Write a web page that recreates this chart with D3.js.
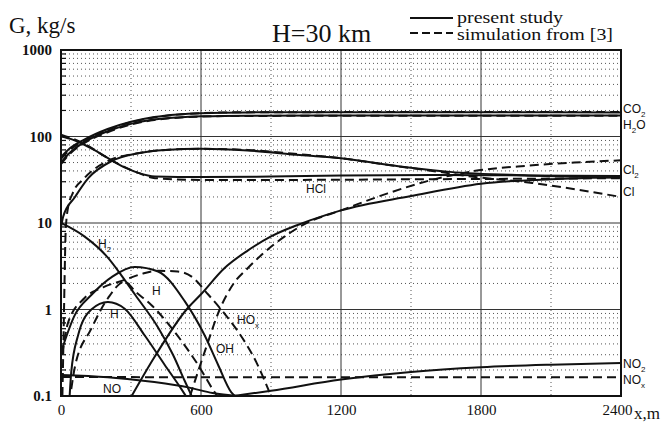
<!DOCTYPE html>
<html>
<head>
<meta charset="utf-8">
<script src="https://cdn.jsdelivr.net/npm/d3@7"></script>
<style>
  body { margin: 0; background: #fff; }
  svg { display: block; }
  .serif { font-family: "Liberation Serif", "Times New Roman", serif; fill: #111; }
  .lbl { font-family: "Liberation Sans", Arial, sans-serif; font-size: 12px; fill: #111; }
</style>
</head>
<body>
<svg id="chart" width="667" height="422"></svg>
<script>
// axis ticks
const xTicks = [0, 600, 1200, 1800, 2400];
const xDotted = [300, 900, 1500, 2100];
const yTicks = [0.1, 1, 10, 100, 1000];

// present study (solid), [x m, G kg/s]
const co2Solid = [[0,58],[30,70],[100,92],[200,122],[300,148],[400,168],[500,180],[600,186],[800,190],[1200,191],[1800,191],[2400,190]];
const h2oSolid = [[0,50],[30,62],[100,86],[200,115],[300,140],[400,157],[500,166],[600,171],[800,174],[1500,175],[2400,175]];
const hclSolid = [[0,100],[50,92],[90,83],[150,68],[217,53],[280,43],[331,38],[403,34.5],[600,34],[900,34.5],[1200,35.5],[1600,36],[2000,35.5],[2400,35]];
const clSolid = [[0,9],[10,12],[60,20],[117,33],[217,52],[331,64],[446,70],[600,72],[800,69],[1024,61],[1200,56],[1453,45],[1667,39],[2000,35.5],[2400,33.5]];
const cl2Solid = [[303,0.1],[400,0.28],[538,1.0],[600,1.5],[700,3.0],[800,4.8],[900,7],[1080,11],[1200,14],[1500,20.5],[1800,28.5],[2100,32],[2400,34]];
const h2Solid = [[0,10],[100,7],[200,4],[258,2.5],[320,1.45],[416,0.62],[480,0.3],[530,0.15],[560,0.1]];
const hSolid = [[37,0.1],[44,0.19],[73,0.5],[130,1.0],[201,1.22],[273,1.02],[359,0.5],[444,0.23],[516,0.12],[535,0.1]];
const ohSolid = [[0,0.32],[59,0.86],[130,1.47],[220,2.4],[316,3.1],[416,2.75],[530,1.25],[616,0.5],[673,0.23],[730,0.11],[745,0.1]];
const noSolid = [[0,0.175],[200,0.165],[400,0.145],[550,0.125],[650,0.108],[760,0.1]];
const no2Solid = [[740,0.1],[900,0.115],[1200,0.155],[1500,0.19],[1800,0.215],[2100,0.23],[2400,0.24]];

// simulation from [3] (dashed)
const co2Dash = [[0,55],[30,67],[100,89],[200,119],[300,146],[400,166],[500,179],[600,186],[800,191],[2400,192]];
const h2oDash = [[0,48],[30,60],[100,84],[200,112],[300,138],[400,155],[500,165],[600,170],[800,173],[2400,174]];
const hclDash = [[0,105],[90,85],[217,53],[331,38],[403,33],[600,31.5],[1000,31.5],[1500,32],[2000,32.5],[2400,33]];
const clDash = [[6,0.1],[11,0.5],[15,2],[20,8],[30,15],[50,22],[100,33],[200,52],[330,64],[450,70],[600,72],[800,70],[1000,63],[1200,56],[1450,45],[1650,38],[1740,35],[2020,29],[2400,20]];
const cl2Dash = [[553,0.1],[620,0.35],[680,1.0],[740,2.0],[800,3.0],[900,5.3],[1050,9.9],[1200,14],[1400,22],[1580,31],[1750,39],[2000,46],[2200,50],[2400,53]];
const hoxDash = [[5,0.3],[30,0.7],[100,1.35],[180,1.8],[273,2.2],[350,2.6],[416,2.8],[500,2.75],[560,2.4],[630,1.5],[700,0.9],[750,0.6],[839,0.24],[900,0.1]];
const hDash = [[44,0.12],[60,0.22],[130,0.6],[201,1.35],[273,2.1],[320,1.6],[387,1.13],[487,0.55],[587,0.23],[659,0.11],[670,0.1]];
const noxDash = [[0,0.166],[600,0.165],[1200,0.165],[1800,0.165],[2400,0.165]];

const solidSeries = [co2Solid, h2oSolid, hclSolid, clSolid, cl2Solid, h2Solid, hSolid, ohSolid, noSolid, no2Solid];
const dashSeries = [co2Dash, h2oDash, hclDash, clDash, cl2Dash, hoxDash, hDash, noxDash];

const svg = d3.select("#chart");
const x = d3.scaleLinear().domain([0, 2400]).range([61, 621]);
const y = d3.scaleLog().domain([0.1, 1000]).range([396, 50]);

svg.append("clipPath").attr("id", "plotClip")
  .append("rect").attr("x", 61).attr("y", 50).attr("width", 560).attr("height", 346);

// dotted minor grid
const minorY = [];
[0.1, 1, 10, 100].forEach(d => { for (let k = 2; k <= 9; k++) minorY.push(d * k); });
const grid = svg.append("g");
grid.selectAll(".hdot").data(minorY).join("line")
  .attr("x1", 61).attr("x2", 621)
  .attr("y1", d => y(d)).attr("y2", d => y(d))
  .attr("stroke", "#555").attr("stroke-width", 1).attr("stroke-dasharray", "1,3");
grid.selectAll(".vdot").data(xDotted).join("line")
  .attr("x1", d => x(d)).attr("x2", d => x(d))
  .attr("y1", 50).attr("y2", 396)
  .attr("stroke", "#555").attr("stroke-width", 1).attr("stroke-dasharray", "1,3");

// solid major grid
grid.selectAll(".hmaj").data([1, 10, 100]).join("line")
  .attr("x1", 61).attr("x2", 621)
  .attr("y1", d => y(d)).attr("y2", d => y(d))
  .attr("stroke", "#333").attr("stroke-width", 1);
grid.selectAll(".vmaj").data([600, 1200, 1800]).join("line")
  .attr("x1", d => x(d)).attr("x2", d => x(d))
  .attr("y1", 50).attr("y2", 396)
  .attr("stroke", "#333").attr("stroke-width", 1);

// minor ticks on the left edge
grid.selectAll(".ytk").data(minorY).join("line")
  .attr("x1", 61).attr("x2", 66)
  .attr("y1", d => y(d)).attr("y2", d => y(d))
  .attr("stroke", "#111").attr("stroke-width", 1.2);

// curves
const line = d3.line()
  .x(d => x(d[0])).y(d => y(d[1]))
  .curve(d3.curveMonotoneX);
const curves = svg.append("g").attr("clip-path", "url(#plotClip)");
curves.selectAll(".solid").data(solidSeries).join("path")
  .attr("d", line).attr("fill", "none")
  .attr("stroke", "#111").attr("stroke-width", 2);
curves.selectAll(".dash").data(dashSeries).join("path")
  .attr("d", line).attr("fill", "none")
  .attr("stroke", "#111").attr("stroke-width", 2).attr("stroke-dasharray", "9,5");

// frame
svg.append("rect").attr("x", 61).attr("y", 50).attr("width", 560).attr("height", 346)
  .attr("fill", "none").attr("stroke", "#111").attr("stroke-width", 2);

// axes
const xAxis = svg.append("g").attr("transform", "translate(0,396)")
  .call(d3.axisBottom(x).tickValues(xTicks).tickSize(0).tickPadding(8).tickFormat(d3.format("d")));
xAxis.select(".domain").remove();
xAxis.selectAll("text").attr("class", "serif").style("font-size", "15px")
  .attr("x", d => d === 2400 ? -4 : 0);

const yAxis = svg.append("g").attr("transform", "translate(61,0)")
  .call(d3.axisLeft(y).tickValues(yTicks).tickSize(0).tickPadding(9).tickFormat(d => String(d)));
yAxis.select(".domain").remove();
yAxis.selectAll("text").attr("class", "serif").style("font-size", "15px").style("font-weight", "bold");

// titles
svg.append("text").attr("class", "serif").attr("x", 9).attr("y", 33)
  .style("font-size", "23px").text("G, kg/s");
svg.append("text").attr("class", "serif").attr("x", 272).attr("y", 42)
  .style("font-size", "26px").text("H=30 km");
svg.append("text").attr("class", "serif").attr("x", 634).attr("y", 419)
  .style("font-size", "17px").text("x,m");

// legend
svg.append("line").attr("x1", 410).attr("x2", 453).attr("y1", 18).attr("y2", 18)
  .attr("stroke", "#111").attr("stroke-width", 2);
svg.append("line").attr("x1", 410).attr("x2", 453).attr("y1", 33).attr("y2", 33)
  .attr("stroke", "#111").attr("stroke-width", 2).attr("stroke-dasharray", "8,4");
svg.append("text").attr("class", "serif").attr("x", 457).attr("y", 23)
  .style("font-size", "16px").attr("textLength", 106).attr("lengthAdjust", "spacingAndGlyphs")
  .text("present study");
svg.append("text").attr("class", "serif").attr("x", 457).attr("y", 40)
  .style("font-size", "16px").attr("textLength", 156).attr("lengthAdjust", "spacingAndGlyphs")
  .text("simulation from [3]");

// species labels [text, subscript, x, y]
const labels = [
  ["CO", "2", 623, 113], ["H", "2", 623, 129, "O"],
  ["Cl", "2", 623, 174], ["Cl", "", 623, 196],
  ["NO", "2", 623, 368], ["NO", "x", 623, 384],
  ["HCl", "", 306, 193], ["H", "2", 98, 248],
  ["H", "", 152, 295], ["H", "", 110, 318],
  ["HO", "x", 237, 324], ["OH", "", 216, 353], ["NO", "", 103, 393]
];
labels.forEach(l => {
  const t = svg.append("text").attr("class", "lbl").attr("x", l[2]).attr("y", l[3]);
  t.append("tspan").text(l[0]);
  if (l[1]) t.append("tspan").attr("dy", 4).style("font-size", "8px").text(l[1]);
  if (l[4]) t.append("tspan").attr("dy", -4).text(l[4]);
});
</script>
</body>
</html>
